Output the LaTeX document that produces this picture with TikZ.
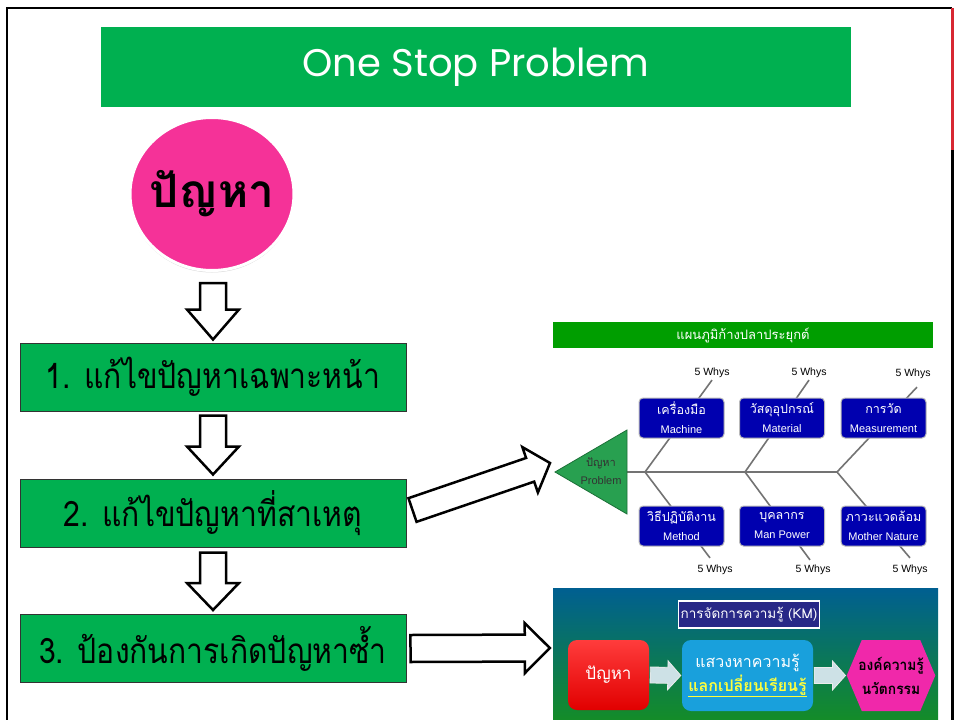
\documentclass[tikz,border=0pt]{standalone}
\usepackage{fontspec}
\setmainfont{Liberation Sans}
\newfontfamily\thaifont[Script=Thai]{Loma}
\newfontfamily\titlefont{Poppins}
\usepackage{xcolor}
\usepackage{graphicx}
\usepackage{tikz}
\usetikzlibrary{positioning,calc,shapes.geometric,shapes.symbols,shadows}

\definecolor{stepgreen}{RGB}{0,176,80}
\definecolor{probpink}{RGB}{245,50,152}
\definecolor{fishgreen}{RGB}{0,158,0}
\definecolor{fishhead}{RGB}{40,160,80}
\definecolor{bonegray}{RGB}{115,115,115}
\definecolor{causeblue}{RGB}{0,0,175}
\definecolor{kmtop}{RGB}{0,95,145}
\definecolor{kmbottom}{RGB}{20,140,40}
\definecolor{kmnavy}{RGB}{40,40,135}
\definecolor{kmredtop}{RGB}{255,60,60}
\definecolor{kmred}{RGB}{225,0,0}
\definecolor{kmcyan}{RGB}{25,160,220}
\definecolor{kmpink}{RGB}{240,40,170}
\definecolor{kmarrow}{RGB}{205,225,230}
\definecolor{kmyellow}{RGB}{255,255,60}
\definecolor{framered}{RGB}{215,40,50}

% fat outlined arrow: [style]{from}{to}{half shaft}{half head}{head length}
\newcommand{\fatarrow}[6][]{%
  \path ($(#3)!#6!(#2)$) coordinate (fahead);
  \draw[#1] ($(#2)!#4!90:(#3)$) -- ($(fahead)!#4!90:(#3)$)
    -- ($(fahead)!#5!90:(#3)$) -- (#3) -- ($(fahead)!#5!-90:(#3)$)
    -- ($(fahead)!#4!-90:(#3)$) -- ($(#2)!#4!-90:(#3)$) -- cycle;
}
\newcommand{\steptext}[1]{\scalebox{0.86}[1]{#1}}

\tikzset{
  stepbox/.style={draw=black!80, line width=1, fill=stepgreen,
    minimum width=386, minimum height=68,
    font=\thaifont\fontsize{35}{40}\selectfont},
  blockarrow/.style={draw=black, line width=2.5, fill=white, line join=miter},
  bone/.style={draw=bonegray, line width=1.6},
  causebox/.style={draw=gray!55, line width=1, fill=causeblue, rounded corners=4,
    minimum width=85, minimum height=40, inner sep=1, text=white, align=center,
    font=\fontsize{11}{19}\selectfont},
  whys/.style={font=\fontsize{10.5}{12}\selectfont, inner sep=2},
  kmarrowstyle/.style={draw=white!85!gray, line width=0.8, fill=kmarrow},
  kmtext/.style={font=\thaifont\fontsize{16}{24}\selectfont, align=center}
}

\begin{document}
\begin{tikzpicture}[x=1pt,y=-1pt]
  \fill[white] (0,0) rectangle (956,720);
  \useasboundingbox (0,0) rectangle (956,720);

  % frame
  \draw[line width=2] (7,720) -- (7,8) -- (952,8);
  \draw[line width=2.5, framered] (952.5,8) -- (952.5,150);
  \draw[line width=2.5] (952.5,150) -- (952.5,720);

  % title
  \node[fill=stepgreen, minimum width=750, minimum height=80, text=white,
        font=\titlefont\fontsize{38.5}{40}\selectfont] (title) at (476,67)
    {One Stop Problem};

  % problem and the three steps
  \node[ellipse, fill=probpink, draw=white, line width=3, inner sep=0,
        minimum width=164, minimum height=153,
        drop shadow={opacity=0.3, shadow xshift=0pt, shadow yshift=-2pt},
        font=\thaifont\bfseries\fontsize{46}{50}\selectfont] (prob) at (212,194)
    {\makebox[70pt]{ปัญหา}};

  \node[stepbox] (step1) at (213,377) {\steptext{1. แก้ไขปัญหาเฉพาะหน้า}};
  \node[stepbox] (step2) at (213,513) {\steptext{2. แก้ไขปัญหาที่สาเหตุ}};
  \node[stepbox] (step3) at (213,648.5) {\steptext{3. ป้องกันการเกิดปัญหาซ้ำ}};

  \coordinate (d1s) at ($(prob.south)+(1,11)$);
  \coordinate (d1e) at ($(step1.north)+(0,-3)$);
  \coordinate (d2s) at ($(step1.south)+(0,4)$);
  \coordinate (d2e) at ($(step2.north)+(0,-4)$);
  \coordinate (d3s) at ($(step2.south)+(0,5)$);
  \coordinate (d3e) at ($(step3.north)+(0,-4)$);
  \fatarrow[blockarrow]{d1s}{d1e}{13pt}{26pt}{30pt}
  \fatarrow[blockarrow]{d2s}{d2e}{13pt}{26pt}{28pt}
  \fatarrow[blockarrow]{d3s}{d3e}{13pt}{26pt}{27pt}

  % fishbone panel
  \node[fill=fishgreen, minimum width=380, minimum height=26, inner sep=0, text=white,
        font=\thaifont\fontsize{13}{15}\selectfont] (fishtitle) at (743,335)
    {แผนภูมิก้างปลาประยุกต์};

  \coordinate (fishtip) at (555,472);
  \coordinate (fishbase) at (627,472);
  \coordinate (j1) at (645,472);
  \coordinate (j2) at (745,472);
  \coordinate (j3) at (837,472);

  \node[whys] (w1) at (712,373) {5 Whys};
  \node[whys] (w2) at (809,373) {5 Whys};
  \node[whys] (w3) at (913,374) {5 Whys};
  \node[whys] (w4) at (715,570) {5 Whys};
  \node[whys] (w5) at (813,570) {5 Whys};
  \node[whys] (w6) at (910,570) {5 Whys};

  \draw[bone] (fishbase) -- (j3);
  \draw[bone] (j1) -- (w1.south);
  \draw[bone] (j2) -- (w2.south);
  \draw[bone] (j3) -- ($(w3.south)+(4,6)$);
  \draw[bone] (j1) -- ($(w4.north)+(-5,-5)$);
  \draw[bone] (j2) -- ($(w5.north)+(-3,-3)$);
  \draw[bone] (j3) -- ($(w6.north)+(0,-5)$);

  \draw[fill=fishhead, draw=fishhead!70!black, line width=0.8]
    (fishtip) -- (627,430) -- (627,514) -- cycle;
  \node[align=center, text=black!80, font=\fontsize{11}{18}\selectfont] (fishtext) at (601,471)
    {{\thaifont ปัญหา}\\Problem};

  \node[causebox] (mach) at (681.5,418) {{\thaifont\fontsize{12.5}{19}\selectfont เครื่องมือ}\\Machine};
  \node[causebox] (matl) at (782,418) {{\thaifont\fontsize{12.5}{19}\selectfont วัสดุอุปกรณ์}\\Material};
  \node[causebox] (meas) at (883.5,418) {{\thaifont\fontsize{12.5}{19}\selectfont การวัด}\\Measurement};
  \node[causebox] (meth) at (681.5,526) {{\thaifont\fontsize{12.5}{19}\selectfont วิธีปฏิบัติงาน}\\Method};
  \node[causebox] (manp) at (782,526) {{\thaifont\fontsize{12.5}{19}\selectfont บุคลากร}\\Man Power};
  \node[causebox] (natr) at (883.5,526) {{\thaifont\fontsize{12.5}{19}\selectfont ภาวะแวดล้อม}\\Mother Nature};

  % KM panel
  \node[top color=kmtop, bottom color=kmbottom, minimum width=385, minimum height=132,
        inner sep=0] (kmbox) at (745.5,654) {};
  \node[fill=kmnavy, draw=white, line width=1.5, minimum width=136, minimum height=27,
        inner sep=2, text=white, font=\thaifont\fontsize{13.5}{15}\selectfont] (kmtitle)
    at (749,614.5) {การจัดการความรู้ (KM)};
  \node[top color=kmredtop, bottom color=kmred, rounded corners=9, minimum width=81,
        minimum height=70, text=white, kmtext, font=\thaifont\fontsize{17}{20}\selectfont]
    (kmprob) at (608.5,675) {ปัญหา};
  \node[fill=kmcyan, rounded corners=9, minimum width=131, minimum height=71, text=white,
        kmtext] (kmseek) at (747.5,675.5)
    {แสวงหาความรู้\\\textcolor{kmyellow}{\bfseries\underline{แลกเปลี่ยนเรียนรู้}}};
  \node[signal, signal to=west and east, signal pointer angle=134, fill=kmpink,
        minimum width=78, minimum height=71, inner sep=0, kmtext,
        font=\thaifont\bfseries\fontsize{15}{24}\selectfont]
    (kmhex) at (891,675.5) {\makebox[58pt]{\scalebox{0.92}[1]{องค์ความรู้}}\\\scalebox{0.92}[1]{นวัตกรรม}};

  \coordinate (k1s) at ($(kmprob.east)+(1,0)$);
  \coordinate (k1e) at ($(kmseek.west)+(-1,0)$);
  \coordinate (k2s) at ($(kmseek.east)+(1,0)$);
  \coordinate (k2e) at ($(kmhex.west)+(-1,0)$);
  \fatarrow[kmarrowstyle]{k1s}{k1e}{8pt}{14.5pt}{13pt}
  \fatarrow[kmarrowstyle]{k2s}{k2e}{8pt}{14.5pt}{13pt}

  % links to the panels
  \coordinate (r1s) at ($(step2.east)+(6,-3)$);
  \coordinate (r1e) at ($(fishtip)+(-5,-9)$);
  \coordinate (r2s) at ($(step3.east)+(4,0)$);
  \coordinate (r2e) at ($(kmbox.west)+(-3,-6)$);
  \fatarrow[blockarrow]{r1s}{r1e}{12.5pt}{24pt}{21pt}
  \fatarrow[blockarrow]{r2s}{r2e}{13.5pt}{25pt}{25pt}
\end{tikzpicture}
\end{document}
